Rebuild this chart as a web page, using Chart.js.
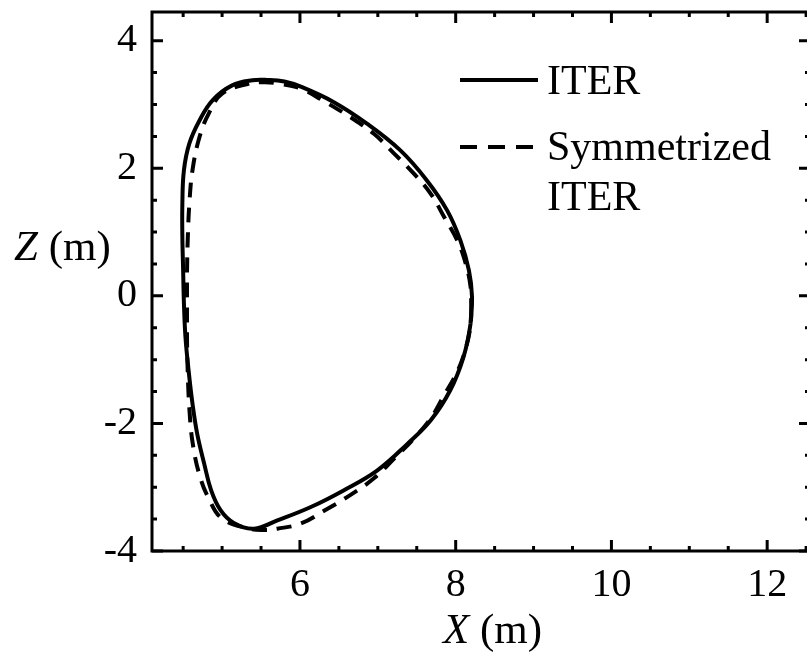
<!DOCTYPE html>
<html>
<head>
<meta charset="utf-8">
<script src="https://cdn.jsdelivr.net/npm/chart.js@4.4.1/dist/chart.umd.min.js"></script>
<style>
  html, body { margin: 0; padding: 0; background: #fff; overflow: hidden; }
  canvas { display: block; }
</style>
</head>
<body>
<canvas id="chart" width="820" height="652"></canvas>
<script>
// ITER plasma boundary (X, Z in metres)
// starts on the outboard midplane and runs round once, overlapping one point so the loop closes smoothly
const iterX = [8.21, 8.19, 8.10, 7.93, 7.68, 7.38, 6.99, 6.56, 6.14, 5.71, 5.41, 5.15, 4.98, 4.86, 4.77, 4.68, 4.62, 4.57, 4.53, 4.51,
               4.50, 4.49, 4.49, 4.51, 4.58, 4.71, 4.88, 5.13, 5.39, 5.58, 5.80, 6.01, 6.43, 6.86, 7.29, 7.63, 7.89, 8.06, 8.17, 8.21, 8.19];
const iterZ = [-0.02, -0.44, -0.96, -1.48, -1.95, -2.32, -2.74, -3.05, -3.31, -3.52, -3.65, -3.56, -3.36, -3.05, -2.63, -2.16, -1.69, -1.17, -0.65, -0.12,
               0.40, 0.92, 1.45, 1.97, 2.39, 2.75, 3.07, 3.30, 3.38, 3.385, 3.36, 3.28, 3.04, 2.70, 2.28, 1.81, 1.34, 0.87, 0.40, -0.02, -0.44];

// symmetrized boundary
const symX = [8.20, 8.19, 8.13, 8.02, 7.85, 7.68, 7.46, 7.21, 6.95, 6.65, 6.31, 6.01, 5.71, 5.55, 5.35, 5.00, 4.83, 4.71, 4.62, 4.58,
              4.56, 4.55, 4.55, 4.55, 4.56, 4.58, 4.62, 4.71, 4.83, 5.00, 5.35, 5.55, 5.71, 6.01, 6.31, 6.65, 6.95, 7.21, 7.46, 7.68,
              7.85, 8.02, 8.13, 8.19, 8.20];
const symZ = [-0.16, -0.47, -0.82, -1.19, -1.56, -1.92, -2.24, -2.55, -2.86, -3.12, -3.37, -3.57, -3.65, -3.67, -3.65, -3.49, -3.18, -2.81, -2.29, -1.77,
              -1.24, -0.70, -0.16, 0.38, 0.92, 1.45, 1.97, 2.49, 2.86, 3.17, 3.33, 3.35, 3.33, 3.25, 3.05, 2.80, 2.54, 2.23, 1.92, 1.60,
              1.24, 0.87, 0.50, 0.15, -0.16];

const xTicks = [6, 8, 10, 12];
const yTicks = [-4, -2, 0, 2, 4];
const minorStep = 0.5;
const seriesNames = ['ITER', 'Symmetrized\nITER'];

const FONT = '"Liberation Serif", "Times New Roman", serif';

function toPoints(xs, zs) {
    return xs.map((x, i) => ({ x: x, y: zs[i] }));
}

// frame with inward ticks on all four sides, legend and axis titles
const framePlugin = {
    id: 'frame',
    afterDraw(chart) {
        const ctx = chart.ctx;
        const a = chart.chartArea;
        const x = chart.scales.x;
        const y = chart.scales.y;

        ctx.save();
        ctx.strokeStyle = '#000';
        ctx.lineWidth = 3;
        ctx.strokeRect(a.left, a.top, a.right - a.left, a.bottom - a.top);

        ctx.beginPath();
        for (let v = Math.ceil(x.min / minorStep) * minorStep; v <= x.max + 1e-9; v += minorStep) {
            const len = xTicks.includes(Math.round(v * 10) / 10) ? 11 : 5;
            const px = x.getPixelForValue(v);
            ctx.moveTo(px, a.bottom); ctx.lineTo(px, a.bottom - len);
            ctx.moveTo(px, a.top); ctx.lineTo(px, a.top + len);
        }
        for (let v = Math.ceil(y.min / minorStep) * minorStep; v <= y.max + 1e-9; v += minorStep) {
            const len = yTicks.includes(Math.round(v * 10) / 10) ? 11 : 5;
            const py = y.getPixelForValue(v);
            ctx.moveTo(a.left, py); ctx.lineTo(a.left + len, py);
            ctx.moveTo(a.right, py); ctx.lineTo(a.right - len, py);
        }
        ctx.stroke();

        // legend
        ctx.lineWidth = 4;
        ctx.beginPath();
        ctx.moveTo(460, 80); ctx.lineTo(538, 80);
        ctx.stroke();
        ctx.setLineDash([17, 11]);
        ctx.beginPath();
        ctx.moveTo(460, 147); ctx.lineTo(534, 147);
        ctx.stroke();
        ctx.setLineDash([]);

        ctx.fillStyle = '#000';
        ctx.textBaseline = 'alphabetic';
        ctx.textAlign = 'left';
        ctx.font = '42px ' + FONT;
        ctx.fillText(seriesNames[0], 547, 94);
        const lines = seriesNames[1].split('\n');
        ctx.fillText(lines[0], 547, 160);
        ctx.fillText(lines[1], 547, 210);

        // axis titles
        drawTitle(ctx, 'X', ' (m)', 443, 643);
        drawTitle(ctx, 'Z', ' (m)', 14, 260);
        ctx.restore();
    }
};

function drawTitle(ctx, sym, unit, left, baseline) {
    ctx.font = 'italic 43px ' + FONT;
    ctx.fillText(sym, left, baseline);
    const w = ctx.measureText(sym).width;
    ctx.font = '43px ' + FONT;
    ctx.fillText(unit, left + w, baseline);
}

new Chart(document.getElementById('chart'), {
    type: 'scatter',
    data: {
        datasets: [
            {
                label: 'ITER',
                data: toPoints(iterX, iterZ),
                showLine: true,
                borderColor: '#000',
                borderWidth: 4,
                pointRadius: 0,
                tension: 0.4,
                fill: false
            },
            {
                label: 'Symmetrized ITER',
                data: toPoints(symX, symZ),
                showLine: true,
                borderColor: '#000',
                borderWidth: 4,
                borderDash: [15, 10],
                pointRadius: 0,
                tension: 0.4,
                fill: false
            }
        ]
    },
    options: {
        responsive: false,
        devicePixelRatio: 1,
        animation: false,
        layout: { padding: { left: 0, top: 12, right: 10, bottom: 0 } },
        plugins: {
            legend: { display: false },
            tooltip: { enabled: false }
        },
        scales: {
            x: {
                type: 'linear',
                min: 4.1,
                max: 12.55,
                grid: { display: false, drawTicks: false },
                border: { display: false },
                afterBuildTicks: scale => { scale.ticks = xTicks.map(v => ({ value: v })); },
                afterFit: scale => {
                    scale.height = 101;
                    scale.paddingLeft = 0;
                    scale.paddingRight = 0;
                },
                ticks: {
                    color: '#000',
                    padding: 10,
                    maxRotation: 0,
                    font: { family: FONT, size: 40 },
                    callback: v => String(v)
                }
            },
            y: {
                type: 'linear',
                min: -4,
                max: 4.45,
                grid: { display: false, drawTicks: false },
                border: { display: false },
                afterBuildTicks: scale => { scale.ticks = yTicks.map(v => ({ value: v })); },
                afterFit: scale => {
                    scale.width = 152;
                    scale.paddingTop = 0;
                    scale.paddingBottom = 0;
                },
                ticks: {
                    color: '#000',
                    padding: 15,
                    font: { family: FONT, size: 40 },
                    callback: v => String(v)
                }
            }
        }
    },
    plugins: [framePlugin]
});
</script>
</body>
</html>
